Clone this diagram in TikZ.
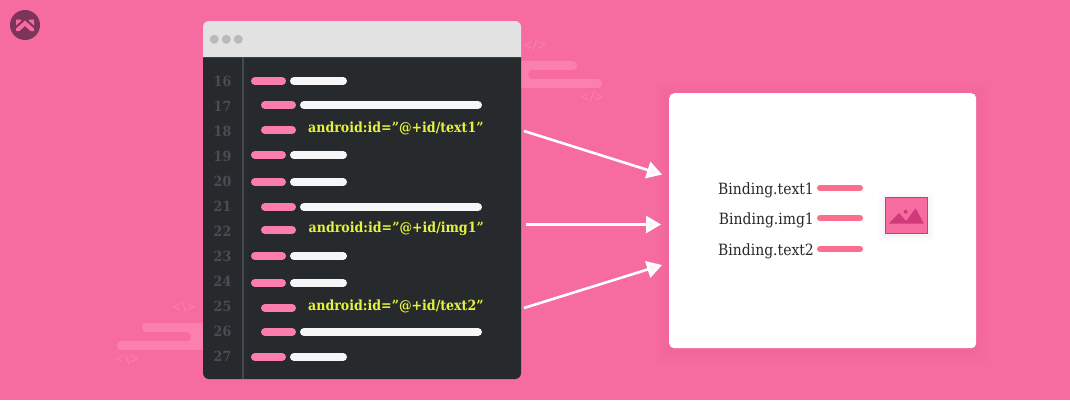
\documentclass[tikz,border=0pt]{standalone}
\usepackage{fontspec}
\setmainfont{DejaVu Serif Condensed}
\setsansfont{Open Sans}
\usetikzlibrary{arrows.meta}
\definecolor{bgpink}{HTML}{F76CA0}
\definecolor{barpink}{HTML}{FB7DAD}
\definecolor{deco}{HTML}{FB80AE}
\definecolor{codebg}{HTML}{262A2D}
\definecolor{rulec}{HTML}{454A50}
\definecolor{numc}{HTML}{4A4E54}
\definecolor{headc}{HTML}{E2E2E2}
\definecolor{dotc}{HTML}{B9B9B9}
\definecolor{barw}{HTML}{F6F6F6}
\definecolor{idc}{HTML}{E6F23C}
\definecolor{redbar}{HTML}{FB6F8E}
\definecolor{darkp}{HTML}{CF3A78}
\definecolor{logoc}{HTML}{7E3358}
\definecolor{inkc}{HTML}{26282A}
\tikzset{
  x=1pt,y=-1pt,
  pinkbar/.style={line width=8pt,line cap=round,draw=barpink},
  whitebar/.style={line width=8pt,line cap=round,draw=barw},
  decobar/.style={line width=9pt,line cap=round,draw=deco},
  notch/.style={line width=9pt,line cap=round,draw=bgpink},
  redline/.style={line width=6pt,line cap=round,draw=redbar},
  linenum/.style={text=numc,font=\fontsize{14}{16}\selectfont\bfseries,inner sep=0pt},
  idtext/.style={text=idc,font=\fontsize{14}{16}\selectfont\bfseries,inner sep=0pt,anchor=west},
  bindtext/.style={text=inkc,font=\fontsize{15.5}{17}\selectfont,inner sep=0pt,anchor=east},
  decotext/.style={text=deco,font=\fontsize{15}{17}\selectfont\sffamily,inner sep=0pt},
  flow/.style={draw=white,line width=2.6pt,-{Triangle[length=15pt,width=17pt,fill=barw]}},
  dot/.style={circle,fill=dotc,minimum size=9pt,inner sep=0pt},
}
\begin{document}
\begin{tikzpicture}
\useasboundingbox (0,0) rectangle (1070,400);
\fill[bgpink] (0,0) rectangle (1070,400);
% logo
\fill[logoc] (25,25) circle (15);
\fill[bgpink] (16,28.5) -- (25,20.5) -- (34,28.5) -- (34,31) -- (30.5,31) -- (25,26) -- (19.5,31) -- (16,31) -- cycle;
\fill[bgpink] (16,19.5) -- (21,19.5) -- (21.5,20.5) -- (16,25.5) -- cycle;
\fill[bgpink] (34,19.5) -- (29,19.5) -- (28.5,20.5) -- (34,25.5) -- cycle;
% decorative code bars, top right
\draw[decobar] (515,65.5) -- (572.5,65.5);
\draw[decobar] (515,83.5) -- (597.5,83.5);
\fill[deco] (515,65) rectangle (530,84);
\draw[notch] (532.5,74.5) -- (600,74.5);
\node[decotext] (c1) at (535,45) {</>};
\node[decotext] (c2) at (592,97) {</>};
% decorative code bars, bottom left
\draw[decobar] (146.5,327.5) -- (210,327.5);
\draw[decobar] (121.5,345.5) -- (210,345.5);
\fill[deco] (185,327) rectangle (210,346);
\draw[notch] (115,336.5) -- (186.5,336.5);
\node[decotext] (c3) at (184,307) {<\textbackslash>};
\node[decotext] (c4) at (127,359) {<\textbackslash>};
% editor window
\fill[codebg] (203,57) -- (521,57) -- (521,373) arc[start angle=0,end angle=90,radius=6] -- (209,379) arc[start angle=90,end angle=180,radius=6] -- cycle;
\fill[headc] (203,57) -- (203,27) arc[start angle=180,end angle=270,radius=6] -- (515,21) arc[start angle=270,end angle=360,radius=6] -- (521,57) -- cycle;
\node[dot] (d1) at (214.3,39.3) {};
\node[dot] (d2) at (226.3,39.3) {};
\node[dot] (d3) at (238.3,39.3) {};
\draw[rulec,line width=1.5pt] (243,57) -- (243,379);
% line numbers
\node[linenum] (n16) at (222.5,81) {16};
\node[linenum] (n17) at (222.5,106) {17};
\node[linenum] (n18) at (222.5,131) {18};
\node[linenum] (n19) at (222.5,156) {19};
\node[linenum] (n20) at (222.5,181) {20};
\node[linenum] (n21) at (222.5,206) {21};
\node[linenum] (n22) at (222.5,231) {22};
\node[linenum] (n23) at (222.5,256) {23};
\node[linenum] (n24) at (222.5,281) {24};
\node[linenum] (n25) at (222.5,306) {25};
\node[linenum] (n26) at (222.5,331) {26};
\node[linenum] (n27) at (222.5,356) {27};
% code rows
\foreach \y in {81,155,182,256,283,357}{
  \draw[pinkbar] (255,\y) -- (282,\y);
  \draw[whitebar] (294,\y) -- (343,\y);
}
\foreach \y in {105,207,332}{
  \draw[pinkbar] (265,\y) -- (292,\y);
  \draw[whitebar] (304,\y) -- (478,\y);
}
\foreach \y in {130,230,308}{
  \draw[pinkbar] (265,\y) -- (292,\y);
}
\node[idtext] (id1) at (308,128) {android:id="@+id/text1"};
\node[idtext] (id2) at (308.5,228.5) {android:id="@+id/img1"};
\node[idtext] (id3) at (308,306.5) {android:id="@+id/text2"};
% output card
\foreach \g in {14,11,8,5,2}{
  \fill[darkp,opacity=0.012,rounded corners=8pt] (669-\g,93-\g+3) rectangle (976+\g,348+\g+3);
}
\node[fill=white,rounded corners=5pt,minimum width=307pt,minimum height=255pt,inner sep=0pt,anchor=north west] (card) at (669,93) {};
\node[bindtext] (b1) at (814,190) {Binding.text1};
\node[bindtext] (b2) at (814,220) {Binding.img1};
\node[bindtext] (b3) at (814,251) {Binding.text2};
\draw[redline] (820,188) -- (860,188);
\draw[redline] (820,218) -- (860,218);
\draw[redline] (820,249) -- (860,249);
% image icon
\foreach \g in {6,4,2}{
  \fill[black,opacity=0.012] (885-\g,197-\g+2) rectangle (928+\g,233+\g+2);
}
\node[draw=darkp,fill=bgpink,line width=0.7pt,minimum width=42pt,minimum height=36pt,inner sep=0pt,anchor=north west] (icon) at (885.3,197.3) {};
\fill[darkp] (889,223.5) -- (899,213) -- (906,221) -- (915.7,208.3) -- (923.7,223.5) -- cycle;
\fill[darkp] (905.7,211.7) circle (2);
% arrows
\coordinate (a1s) at (524,131);
\coordinate (a1e) at (662,174.5);
\coordinate (a2s) at (526,224.5);
\coordinate (a2e) at (661,224.5);
\coordinate (a3s) at (524,308);
\coordinate (a3e) at (662,265);
\draw[flow] (a1s) -- (a1e);
\draw[flow] (a2s) -- (a2e);
\draw[flow] (a3s) -- (a3e);
\end{tikzpicture}
\end{document}
